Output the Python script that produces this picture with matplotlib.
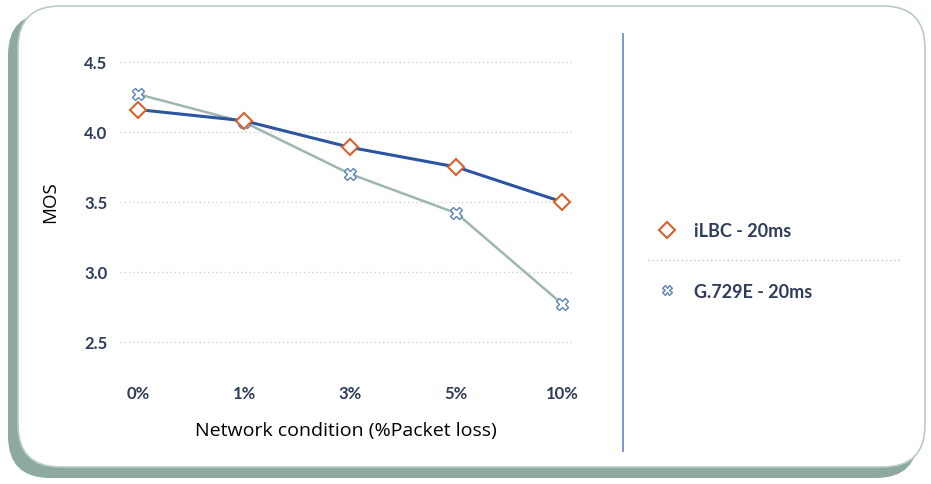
import matplotlib
matplotlib.use("Agg")
import matplotlib.pyplot as plt
from matplotlib.patches import FancyBboxPatch
from matplotlib.lines import Line2D

# data
conditions = ["0%", "1%", "3%", "5%", "10%"]
ilbc_mos = [4.16, 4.08, 3.89, 3.75, 3.50]
g729e_mos = [4.27, 4.07, 3.70, 3.42, 2.77]
y_ticks = [2.5, 3.0, 3.5, 4.0, 4.5]
series_names = ["iLBC - 20ms", "G.729E - 20ms"]

W, H = 931, 485
navy = "#2e3b5a"

fig = plt.figure(figsize=(W / 100, H / 100), dpi=100)

# background panel in pixel coords
bg = fig.add_axes([0, 0, 1, 1], zorder=0)
bg.set_xlim(0, W)
bg.set_ylim(0, H)
bg.axis("off")
shadow = FancyBboxPatch((8, 6), 910, 465, boxstyle="round,pad=0,rounding_size=42",
                        fc="#8ea8a2", ec="none")
panel = FancyBboxPatch((18, 17), 907, 461, boxstyle="round,pad=0,rounding_size=42",
                       fc="white", ec="#b7cbc6", lw=1.2)
bg.add_patch(shadow)
bg.add_patch(panel)
# vertical separator
bg.plot([623, 623], [33, 450], color="#7393bb", lw=1.3)
# dotted line between legend entries
bg.plot([648, 900], [224, 224], color="#b8c4cc", lw=1, ls=(0, (1, 2)))

ax = fig.add_axes([120 / W, (H - 350) / H, (572 - 120) / W, (350 - 55) / H], zorder=1)
ax.patch.set_alpha(0)
x = range(len(conditions))
ax.plot(x, ilbc_mos, color="#2c55a0", lw=2.2, marker="D", ms=8.5,
        mfc="white", mec="#d9612c", mew=1.5, zorder=3)
ax.plot(x, g729e_mos, color="#9fb6b0", lw=1.8, marker="X", ms=8,
        mfc="white", mec="#5b84b8", mew=1.0, zorder=2)

ax.set_xlim(-0.17, 4.09)
ax.set_ylim(2.45, 4.557)
ax.set_xticks(list(x))
ax.set_xticklabels(conditions)
ax.set_yticks(y_ticks)
ax.set_yticklabels([f"{v:.1f}" for v in y_ticks])
for s in ax.spines.values():
    s.set_visible(False)
ax.tick_params(length=0)
ax.tick_params(axis="y", pad=9)
ax.tick_params(axis="x", pad=26)
for lab in ax.get_xticklabels() + ax.get_yticklabels():
    lab.set_fontfamily("Lato")
    lab.set_fontweight("bold")
    lab.set_fontsize(12)
    lab.set_color(navy)
ax.grid(axis="y", color="#cfd3d6", lw=1, ls=(0, (1, 2)))
ax.set_axisbelow(True)

ax.set_xlabel("Network condition (%Packet loss)", fontfamily="Open Sans",
              fontsize=14, color="black", labelpad=14)
ax.set_ylabel("MOS", fontfamily="Open Sans", fontsize=13.5, color="black", labelpad=18)

handles = [
    Line2D([], [], ls="none", marker="D", ms=8, mfc="white", mec="#d9612c", mew=1.5),
    Line2D([], [], ls="none", marker="X", ms=7, mfc="white", mec="#5b84b8", mew=1.0),
]
leg = fig.legend(handles, series_names, loc="center left",
                 bbox_to_anchor=(640 / W, (H - 262) / H), frameon=False,
                 handlelength=1.2, handletextpad=0.9, labelspacing=2.4,
                 prop={"family": "Lato", "weight": "bold", "size": 13})
for t in leg.get_texts():
    t.set_color(navy)

fig.savefig("out.png", dpi=100)
